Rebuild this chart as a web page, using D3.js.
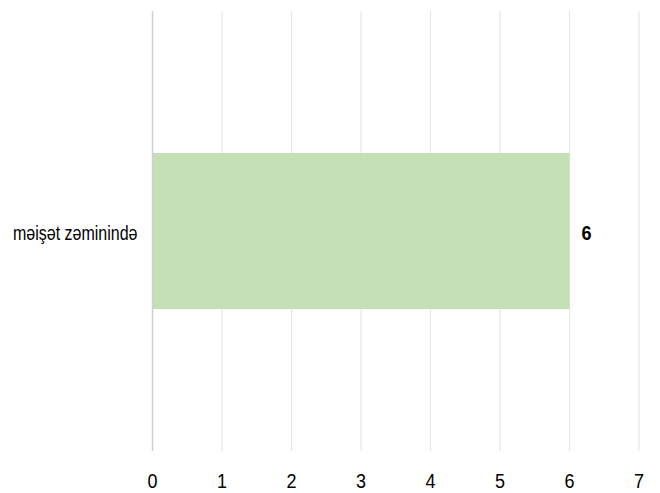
<!DOCTYPE html>
<html><head><meta charset="utf-8">
<script src="https://cdn.jsdelivr.net/npm/d3@7"></script>
<style>body{margin:0;background:#fff}svg{display:block}</style>
</head><body>
<script>
const categories = ["məişət zəminində"];
const values = [6];
const xTicks = [0,1,2,3,4,5,6,7];

const W=660,H=493;
const FONT="Liberation Sans, Arial, sans-serif";
const svg=d3.select("body").append("svg").attr("width",W).attr("height",H);
const x=d3.scaleLinear().domain([0,7]).range([152.5,639]);
const y=d3.scaleBand().domain(categories).range([11,451]).padding(0.4765);

svg.append("g").selectAll("line").data(xTicks.filter(d=>d>0)).join("line")
  .attr("x1",d=>x(d)).attr("x2",d=>x(d)).attr("y1",11).attr("y2",451)
  .attr("stroke","#e6e6e6").attr("stroke-width",1.2);

svg.append("g").selectAll("rect").data(values).join("rect")
  .attr("x",x(0)).attr("y",(d,i)=>y(categories[i]))
  .attr("width",d=>x(d)-x(0)).attr("height",y.bandwidth())
  .attr("fill","#c5e0b4");

svg.append("line").attr("x1",x(0)).attr("x2",x(0)).attr("y1",11).attr("y2",451)
  .attr("stroke","#d0d0d0").attr("stroke-width",1.5);

svg.append("g").selectAll("g").data(xTicks).join("g")
  .attr("transform",d=>`translate(${x(d)},487.5) scale(1,1.15)`)
  .append("text").attr("text-anchor","middle")
  .attr("font-family",FONT).attr("font-size",18)
  .attr("fill","#000").text(d=>d);

svg.append("g").selectAll("g").data(categories).join("g")
  .attr("transform",d=>`translate(137.5,${y(d)+y.bandwidth()/2+9}) scale(1,1.25)`)
  .append("text").attr("text-anchor","end")
  .attr("font-family",FONT).attr("font-size",16)
  .attr("fill","#000").text(d=>d);

svg.append("g").selectAll("g").data(values).join("g")
  .attr("transform",(d,i)=>`translate(${x(d)+12},${y(categories[i])+y.bandwidth()/2+9}) scale(1,1.12)`)
  .append("text")
  .attr("font-family",FONT).attr("font-size",18).attr("font-weight","bold")
  .attr("fill","#000").text(d=>d);
</script>
</body></html>
